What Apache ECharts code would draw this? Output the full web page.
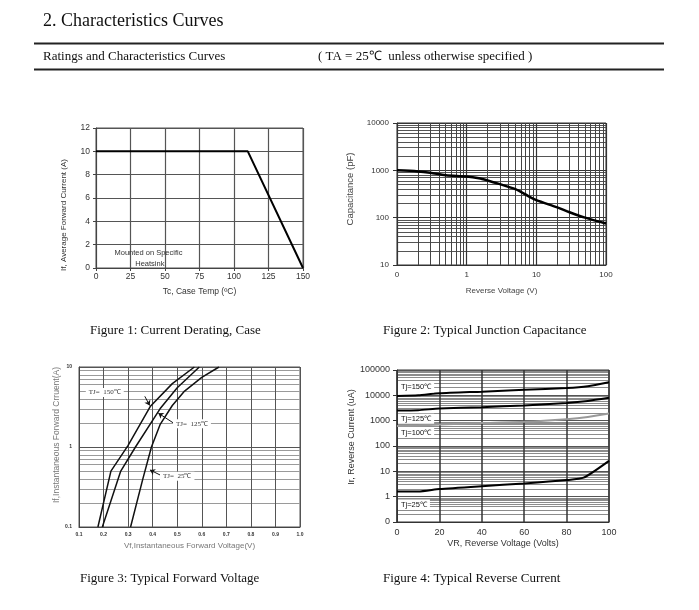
<!DOCTYPE html>
<html>
<head>
<meta charset="utf-8">
<script src="https://cdn.jsdelivr.net/npm/echarts@6/dist/echarts.min.js"></script>
<style>
  html, body { margin: 0; padding: 0; background: #fff; }
  #main { width: 699px; height: 610px; }
</style>
</head>
<body>
<div id="main"></div>
<script>
// Figure 1: current derating
var derateTemp = [0, 110, 150];
var derateCurrent = [10, 10, 0];

// Figure 2: junction capacitance
var capVoltage = [0.1, 0.2, 0.3, 0.5, 1, 1.5, 2, 3, 5, 7, 8, 10, 20, 30, 50, 100];
var capValue = [1000, 950, 890, 790, 740, 680, 610, 510, 400, 310, 275, 235, 165, 130, 100, 75];

// Figure 3: forward voltage
var fwd150V = [0.177, 0.23, 0.3, 0.39, 0.48, 0.57];
var fwd150I = [0.1, 0.5, 1.05, 3.2, 6.2, 10];
var fwd125V = [0.195, 0.27, 0.33, 0.43, 0.5, 0.59];
var fwd125I = [0.1, 0.5, 1.0, 3.0, 5.5, 10];
var fwd25V = [0.31, 0.36, 0.395, 0.43, 0.48, 0.53, 0.6, 0.67];
var fwd25I = [0.1, 0.4, 1.0, 1.9, 3.3, 5.0, 7.4, 10];

// Figure 4: reverse current
var revV = [0, 10, 20, 40, 60, 80, 90, 100];
var rev150 = [9500, 10000, 12000, 14000, 16500, 19500, 23000, 33000];
var rev125 = [2500, 2600, 3000, 3400, 4000, 5000, 6000, 8000];
var rev100 = [620, 640, 700, 800, 900, 1150, 1400, 1900];
var rev25V = [0, 10, 20, 40, 60, 80, 88, 100];
var rev25 = [1.6, 1.6, 2.0, 2.6, 3.3, 4.5, 5.6, 26];

function zip(xs, ys) {
  return xs.map(function (x, i) { return [x, ys[i]]; });
}

var sans = 'Liberation Sans';
var serif = 'Liberation Serif';
var gridColor = '#555';
var minorColor = '#9a9a9a';

function textMark(coord, text, size, extra) {
  var label = Object.assign({
    show: true, position: 'inside', formatter: text,
    fontFamily: sans, fontSize: size, color: '#333',
    backgroundColor: '#fff', padding: [1, 3]
  }, extra || {});
  return { coord: coord, symbol: 'rect', symbolSize: 1, itemStyle: { color: 'rgba(0,0,0,0)' }, label: label };
}

function logLabel(zeroAt) {
  return function (v) { return v === zeroAt ? '0' : String(v); };
}

var chart = echarts.init(document.getElementById('main'));
chart.setOption({
  animation: false,
  backgroundColor: '#fff',
  graphic: [
    { type: 'text', left: 43, top: 12, style: { text: '2. Characteristics Curves', font: '18px "Liberation Serif"', fill: '#111' } },
    { type: 'line', shape: { x1: 34, y1: 43.5, x2: 664, y2: 43.5 }, style: { stroke: '#222', lineWidth: 2 } },
    { type: 'text', left: 43, top: 50, style: { text: 'Ratings and Characteristics Curves', font: '13px "Liberation Serif"', fill: '#111' } },
    { type: 'text', left: 318, top: 50, style: { text: '( TA = 25℃  unless otherwise specified )', font: '13px "Liberation Serif"', fill: '#111' } },
    { type: 'line', shape: { x1: 34, y1: 69.5, x2: 664, y2: 69.5 }, style: { stroke: '#222', lineWidth: 2 } },
    { type: 'text', left: 90, top: 324, style: { text: 'Figure 1: Current Derating, Case', font: '13px "Liberation Serif"', fill: '#111' } },
    { type: 'text', left: 383, top: 324, style: { text: 'Figure 2: Typical Junction Capacitance', font: '13px "Liberation Serif"', fill: '#111' } },
    { type: 'text', left: 80, top: 572, style: { text: 'Figure 3: Typical Forward Voltage', font: '13px "Liberation Serif"', fill: '#111' } },
    { type: 'text', left: 383, top: 572, style: { text: 'Figure 4: Typical Reverse Current', font: '13px "Liberation Serif"', fill: '#111' } }
  ],
  grid: [
    { left: 96, top: 128, width: 207, height: 140, show: true, borderColor: gridColor, borderWidth: 1 },
    { left: 397, top: 123, width: 209, height: 142, show: true, borderColor: '#333', borderWidth: 1 },
    { left: 79, top: 367, width: 221, height: 160, show: true, borderColor: gridColor, borderWidth: 1 },
    { left: 397, top: 370, width: 212, height: 152, show: true, borderColor: '#333', borderWidth: 1 }
  ],
  xAxis: [
    {
      gridIndex: 0, type: 'value', min: 0, max: 150, interval: 25,
      name: 'Tc, Case Temp (ºC)', nameLocation: 'middle', nameGap: 19,
      nameTextStyle: { fontFamily: sans, fontSize: 8.5, color: '#333' },
      axisLine: { lineStyle: { color: '#444' } },
      axisTick: { show: true, length: 3, lineStyle: { color: '#444' } },
      axisLabel: { fontFamily: sans, fontSize: 8.5, color: '#333', margin: 4 },
      splitLine: { lineStyle: { color: gridColor, width: 1.2 } }
    },
    {
      gridIndex: 1, type: 'log', logBase: 10, min: 0.1, max: 100,
      name: 'Reverse Voltage (V)', nameLocation: 'middle', nameGap: 22,
      nameTextStyle: { fontFamily: sans, fontSize: 8, color: '#444' },
      axisLine: { lineStyle: { color: '#333' } },
      axisTick: { show: false },
      axisLabel: { fontFamily: sans, fontSize: 8, color: '#333', margin: 6, formatter: logLabel(0.1) },
      splitLine: { lineStyle: { color: '#333', width: 1.2 } },
      minorTick: { show: false, splitNumber: 9 },
      minorSplitLine: { show: true, lineStyle: { color: '#444', width: 1 } }
    },
    {
      gridIndex: 2, type: 'value', min: 0.1, max: 1.0, interval: 0.1,
      name: 'Vf,Instantaneous Forward Voltage(V)', nameLocation: 'middle', nameGap: 15,
      nameTextStyle: { fontFamily: sans, fontSize: 8, color: '#777' },
      axisLine: { lineStyle: { color: '#444' } },
      axisTick: { show: false },
      axisLabel: { fontFamily: sans, fontSize: 5, fontWeight: 'bold', color: '#333', margin: 5,
        formatter: function (v) { return v.toFixed(1); } },
      splitLine: { lineStyle: { color: gridColor, width: 1 } }
    },
    {
      gridIndex: 3, type: 'value', min: 0, max: 100, interval: 20,
      name: 'VR, Reverse Voltage (Volts)', nameLocation: 'middle', nameGap: 17,
      nameTextStyle: { fontFamily: sans, fontSize: 9, color: '#333' },
      axisLine: { lineStyle: { color: '#333' } },
      axisTick: { show: false },
      axisLabel: { fontFamily: sans, fontSize: 9, color: '#333', margin: 6 },
      splitLine: { lineStyle: { color: '#333', width: 1.5 } }
    }
  ],
  yAxis: [
    {
      gridIndex: 0, type: 'value', min: 0, max: 12, interval: 2,
      name: 'If, Average Forward Current (A)', nameLocation: 'middle', nameGap: 28,
      nameTextStyle: { fontFamily: sans, fontSize: 8, color: '#333', padding: [0, 34, 0, 0] },
      axisLine: { show: true, lineStyle: { color: '#444' } },
      axisTick: { show: true, length: 3, lineStyle: { color: '#444' } },
      axisLabel: { fontFamily: sans, fontSize: 8.5, color: '#333', margin: 6 },
      splitLine: { lineStyle: { color: gridColor, width: 1.2 } }
    },
    {
      gridIndex: 1, type: 'log', logBase: 10, min: 10, max: 10000,
      name: 'Capacitance (pF)', nameLocation: 'middle', nameGap: 42,
      nameTextStyle: { fontFamily: sans, fontSize: 9.5, color: '#444', padding: [0, 0, 0, 10] },
      axisLine: { show: true, lineStyle: { color: '#333' } },
      axisTick: { show: true, length: 4, lineStyle: { color: '#333' } },
      axisLabel: { fontFamily: sans, fontSize: 8, color: '#333', margin: 8, formatter: logLabel(-1) },
      splitLine: { lineStyle: { color: '#333', width: 1.2 } },
      minorTick: { show: false, splitNumber: 9 },
      minorSplitLine: { show: true, lineStyle: { color: '#555', width: 1 } }
    },
    {
      gridIndex: 2, type: 'log', logBase: 10, min: 0.1, max: 10,
      name: 'If,Instantaneous Forward Crruent(A)', nameLocation: 'middle', nameGap: 15,
      nameTextStyle: { fontFamily: sans, fontSize: 8.5, color: '#777', padding: [0, 0, 0, 24] },
      axisLine: { show: true, lineStyle: { color: '#444' } },
      axisTick: { show: false },
      axisLabel: { fontFamily: sans, fontSize: 5, fontWeight: 'bold', color: '#333', margin: 7 },
      splitLine: { lineStyle: { color: gridColor, width: 1 } },
      minorTick: { show: false, splitNumber: 9 },
      minorSplitLine: { show: true, lineStyle: { color: minorColor, width: 1 } }
    },
    {
      gridIndex: 3, type: 'log', logBase: 10, min: 0.1, max: 100000,
      name: 'Ir, Reverse Current (uA)', nameLocation: 'middle', nameGap: 41,
      nameTextStyle: { fontFamily: sans, fontSize: 9, color: '#333', padding: [0, 0, 0, 18] },
      axisLine: { show: true, lineStyle: { color: '#333' } },
      axisTick: { show: true, length: 4, lineStyle: { color: '#333' } },
      axisLabel: { fontFamily: sans, fontSize: 9, color: '#333', margin: 7, formatter: logLabel(0.1) },
      splitLine: { lineStyle: { color: '#555', width: 1 } },
      minorTick: { show: false, splitNumber: 9 },
      minorSplitLine: { show: true, lineStyle: { color: '#8c8c8c', width: 1 } }
    }
  ],
  series: [
    {
      type: 'line', xAxisIndex: 0, yAxisIndex: 0, data: zip(derateTemp, derateCurrent),
      symbol: 'none', lineStyle: { color: '#000', width: 2 },
      markPoint: { data: [
        textMark([38, 1.3], 'Mounted on Specific', 7.5, { backgroundColor: 'transparent' }),
        textMark([39, 0.35], 'Heatsink', 7.5, { backgroundColor: 'transparent' })
      ] }
    },
    {
      type: 'line', xAxisIndex: 1, yAxisIndex: 1, data: zip(capVoltage, capValue),
      symbol: 'none', smooth: 0.3, lineStyle: { color: '#000', width: 2.5 }
    },
    {
      type: 'line', xAxisIndex: 2, yAxisIndex: 2, data: zip(fwd150V, fwd150I),
      symbol: 'none', lineStyle: { color: '#111', width: 1.5 },
      markLine: {
        silent: true, symbol: ['none', 'arrow'], symbolSize: 5,
        lineStyle: { color: '#111', width: 1, type: 'solid' }, label: { show: false },
        data: [
          [{ coord: [0.368, 4.3] }, { coord: [0.388, 3.3] }],
          [{ coord: [0.484, 2.0] }, { coord: [0.423, 2.65] }],
          [{ coord: [0.43, 0.447] }, { coord: [0.389, 0.517] }]
        ]
      },
      markPoint: { data: [
        textMark([0.205, 4.8], 'TJ=  150℃', 7, { fontFamily: serif }),
        textMark([0.56, 1.95], 'TJ=  125℃', 7, { fontFamily: serif }),
        textMark([0.5, 0.43], 'TJ=  25℃', 7, { fontFamily: serif })
      ] }
    },
    {
      type: 'line', xAxisIndex: 2, yAxisIndex: 2, data: zip(fwd125V, fwd125I),
      symbol: 'none', lineStyle: { color: '#111', width: 1.5 }
    },
    {
      type: 'line', xAxisIndex: 2, yAxisIndex: 2, data: zip(fwd25V, fwd25I),
      symbol: 'none', lineStyle: { color: '#111', width: 1.5 }
    },
    {
      type: 'line', xAxisIndex: 3, yAxisIndex: 3, data: zip(revV, rev150),
      symbol: 'none', smooth: 0.2, lineStyle: { color: '#000', width: 2 },
      markPoint: { data: [
        textMark([9, 20500], 'Tj=150℃', 7.5, { color: '#111' }),
        textMark([9, 1180], 'Tj=125℃', 7.5, { color: '#111' }),
        textMark([9, 324], 'Tj=100℃', 7.5, { color: '#111' }),
        textMark([8, 0.49], 'Tj=25℃', 7.5, { color: '#111' })
      ] }
    },
    {
      type: 'line', xAxisIndex: 3, yAxisIndex: 3, data: zip(revV, rev125),
      symbol: 'none', smooth: 0.2, lineStyle: { color: '#000', width: 2 }
    },
    {
      type: 'line', xAxisIndex: 3, yAxisIndex: 3, data: zip(revV, rev100),
      symbol: 'none', smooth: 0.2, lineStyle: { color: '#999', width: 2 }
    },
    {
      type: 'line', xAxisIndex: 3, yAxisIndex: 3, data: zip(rev25V, rev25),
      symbol: 'none', smooth: 0.2, lineStyle: { color: '#000', width: 2 }
    }
  ]
});
</script>
</body>
</html>
